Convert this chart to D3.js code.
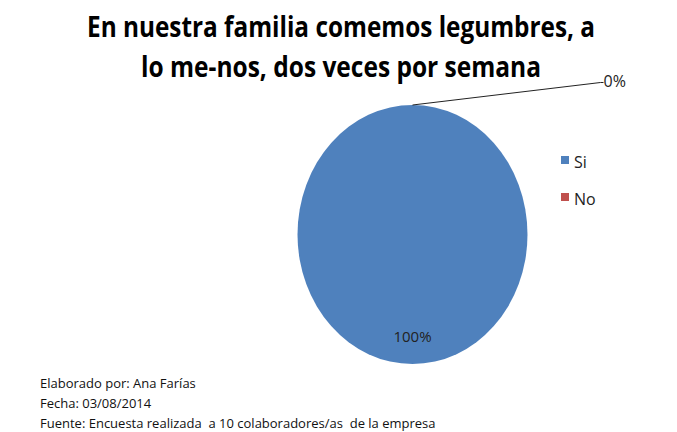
<!DOCTYPE html>
<html>
<head>
<meta charset="utf-8">
<script src="https://cdn.jsdelivr.net/npm/d3@7"></script>
<style>
  body { margin: 0; background: #fff; }
  text { font-family: "Liberation Sans Narrow", "Open Sans", sans-serif; }
</style>
</head>
<body>
<div id="chart"></div>
<script>
// data
var categories = ['Si', 'No']
var counts = [10, 0]
var colors = ['#4F81BD', '#C0504D']
var titleLines = ['En nuestra familia comemos legumbres, a', 'lo me-nos, dos veces por semana']
var notes = [
  'Elaborado por: Ana Farías',
  'Fecha: 03/08/2014',
  'Fuente: Encuesta realizada  a 10 colaboradores/as  de la empresa'
]

var width = 677
var height = 432

var svg = d3.select('#chart')
  .append('svg')
  .attr('width', width)
  .attr('height', height)

// title
var titleWidths = [508, 400]
svg.append('g')
  .attr('class', 'title')
  .selectAll('text')
  .data(titleLines)
  .enter()
  .append('text')
  .attr('x', 341)
  .attr('y', (d, i) => 37 + i * 40)
  .attr('text-anchor', 'middle')
  .attr('font-size', 28)
  .attr('font-weight', 'bold')
  .attr('textLength', (d, i) => titleWidths[i])
  .attr('lengthAdjust', 'spacingAndGlyphs')
  .text(d => d)

// pie (drawn stretched, like the original)
var cx = 412.5
var cy = 234.5
var rx = 115
var ry = 129.5

var total = d3.sum(counts)
var pct = d3.format('.0%')

var pie = d3.pie().sort(null).value(d => d)
var arcs = pie(counts)
var arc = d3.arc().innerRadius(0).outerRadius(ry)

var g = svg.append('g')
  .attr('transform', 'translate(' + cx + ',' + cy + ')')

g.append('g')
  .attr('transform', 'scale(' + (rx / ry) + ',1)')
  .selectAll('path')
  .data(arcs)
  .enter()
  .append('path')
  .attr('d', arc)
  .style('fill', (d, i) => colors[i])

// labels
arcs.forEach((d, i) => {
  var p = counts[i] / total
  if (p > 0) {
    // big slice: label near the bottom of the pie
    g.append('text')
      .attr('x', 0)
      .attr('y', 107)
      .attr('text-anchor', 'middle')
      .attr('font-size', 15)
      .attr('fill', '#222')
      .text(pct(p))
  } else {
    // empty slice: leader line from the rim
    var a = d.startAngle
    var sx = Math.sin(a) * rx
    var sy = -Math.cos(a) * ry
    g.append('polyline')
      .attr('points', [[sx, sy], [188, -152], [191, -152]].map(q => q.join(',')).join(' '))
      .style('fill', 'none')
      .style('stroke', '#222')
      .style('stroke-width', 1)
    g.append('text')
      .attr('x', 191)
      .attr('y', -148)
      .attr('font-size', 16)
      .attr('fill', '#222')
      .text(pct(p))
  }
})

// legend
var legend = svg.append('g')
  .attr('class', 'legend')
  .selectAll('g')
  .data(categories)
  .enter()
  .append('g')
  .attr('transform', (d, i) => 'translate(561,' + (156 + i * 37) + ')')

legend.append('rect')
  .attr('width', 8)
  .attr('height', 8)
  .style('fill', (d, i) => colors[i])

legend.append('text')
  .attr('x', 13)
  .attr('y', 12)
  .attr('font-size', 16)
  .attr('fill', '#222')
  .text(d => d)

// notes
svg.append('g')
  .selectAll('text')
  .data(notes)
  .enter()
  .append('text')
  .attr('x', 40)
  .attr('y', (d, i) => 388 + i * 20)
  .attr('font-size', 13)
  .attr('fill', '#111')
  .attr('xml:space', 'preserve')
  .style('white-space', 'pre')
  .text(d => d)
</script>
</body>
</html>
